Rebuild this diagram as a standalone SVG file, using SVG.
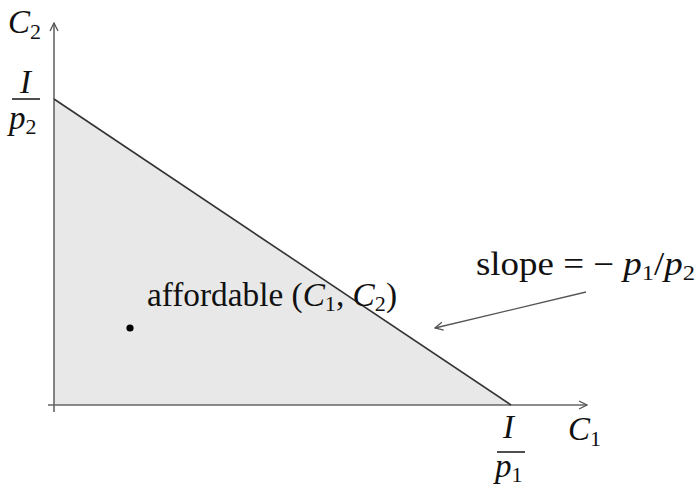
<svg xmlns="http://www.w3.org/2000/svg" width="699" height="489" viewBox="0 0 699 489" font-family="'Liberation Serif', 'Times New Roman', serif">
<style>
text{fill:#111;font-size:33px}
.i{font-style:italic}
.s{font-size:22px;font-style:normal}
.ax{stroke:#666;stroke-width:1.6;fill:none}
</style>
<defs>
<marker id="ah" viewBox="0 0 10 10" refX="9" refY="5" markerWidth="10" markerHeight="10" markerUnits="userSpaceOnUse" orient="auto">
<path d="M1,1 L9,5 L1,9" fill="none" stroke="#555" stroke-width="1.3"/>
</marker>
</defs>
<rect width="699" height="489" fill="#fff"/>
<g id="region">
<polygon points="54,99 511,405 54,405" fill="#e8e8e8"/>
</g>
<g id="connectors">
<line class="ax" x1="54" y1="412" x2="54" y2="23" marker-end="url(#ah)"/>
<line class="ax" x1="48" y1="405" x2="587" y2="405" marker-end="url(#ah)"/>
<line x1="54" y1="99" x2="511" y2="405" stroke="#333" stroke-width="1.6"/>
<line x1="586" y1="292" x2="435" y2="328" stroke="#555" stroke-width="1.3" marker-end="url(#ah)"/>
</g>
<g id="ylabel"><text x="8" y="33" class="i">C<tspan class="s" dy="6">2</tspan></text></g>
<g id="yint">
<text x="20" y="93" class="i">I</text>
<line x1="12" y1="99" x2="40" y2="99" stroke="#222" stroke-width="1.6"/>
<text x="9" y="129" class="i">p<tspan class="s" dy="5">2</tspan></text>
</g>
<g id="xlabel"><text x="568" y="440" class="i">C<tspan class="s" dy="6">1</tspan></text></g>
<g id="xint">
<text x="503" y="438" class="i">I</text>
<line x1="497" y1="452" x2="525" y2="452" stroke="#222" stroke-width="1.6"/>
<text x="495" y="477" class="i">p<tspan class="s" dy="5">1</tspan></text>
</g>
<g id="point">
<circle cx="130" cy="328" r="3.6" fill="#000"/>
<text x="147" y="306" textLength="250" lengthAdjust="spacingAndGlyphs">affordable (<tspan class="i">C</tspan><tspan class="s" dy="5">1</tspan><tspan dy="-5">, </tspan><tspan class="i">C</tspan><tspan class="s" dy="5">2</tspan><tspan dy="-5">)</tspan></text>
</g>
<g id="slope">
<text x="476" y="275" textLength="219" lengthAdjust="spacingAndGlyphs">slope = − <tspan class="i">p</tspan><tspan class="s" dy="5">1</tspan><tspan dy="-5">/</tspan><tspan class="i">p</tspan><tspan class="s" dy="5">2</tspan></text>
</g>
</svg>
